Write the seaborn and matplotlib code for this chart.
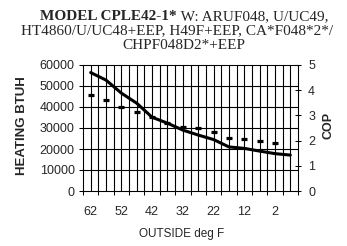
import numpy as np
import pandas as pd
import matplotlib
matplotlib.use('Agg')
import matplotlib.pyplot as plt
import seaborn as sns

# values
outside_temp = [62, 57, 52, 47, 42, 37, 32, 27, 22, 17, 12, 7, 2, -3]
heating_btuh = [56400, 52800, 46600, 41800, 35100, 32300, 29000, 26650, 24500, 21000, 20300, 19000, 17800, 17100]
cop = [3.81, 3.61, 3.35, 3.15, 2.95, 2.71, 2.55, 2.49, 2.35, 2.11, 2.06, 1.98, 1.91, np.nan]
heating_ticks = [0, 10000, 20000, 30000, 40000, 50000, 60000]
cop_ticks = [0, 1, 2, 3, 4, 5]

title_bold = 'MODEL CPLE42-1*'
title_lines = [' W: ARUF048, U/UC49,', 'HT4860/U/UC48+EEP, H49F+EEP, CA*F048*2*/', 'CHPF048D2*+EEP']

df = pd.DataFrame({'temp': outside_temp, 'heating': heating_btuh, 'cop': cop})
df['pos'] = np.arange(len(df))
n = len(df)

sns.set_style('white', {'axes.edgecolor': 'black'})
plt.rcParams['font.family'] = ['Liberation Sans', 'DejaVu Sans']

W, H = 347, 246
fig = plt.figure(figsize=(W / 100, H / 100), dpi=100)
ax = fig.add_axes([83 / W, 55 / H, 215 / W, 126 / H])

# grid: a line at every category edge and centre, and at every btuh tick
ax.vlines(np.arange(0, n - 0.75, 0.5), heating_ticks[0], heating_ticks[-1],
          colors='black', linewidths=0.8, zorder=1.5, clip_on=False)
ax.hlines(heating_ticks[1:-1], -0.5, n - 0.5, colors='black', linewidths=0.8, zorder=1.5, clip_on=False)

sns.lineplot(data=df, x='pos', y='heating', ax=ax, color='black', lw=2.2, zorder=3)

# x axis: categories, a label on every other one
ax.set_xlim(-0.5, n - 0.5)
ax.set_xticks(np.arange(-0.5, n, 1))
ax.set_xticklabels([])
ax.set_xticks(df['pos'], minor=True)
ax.set_xticklabels([str(t) if i % 2 == 0 else '' for i, t in enumerate(outside_temp)], minor=True)
ax.tick_params(axis='x', which='major', bottom=True, direction='out', length=3, width=0.75, color='black')
ax.tick_params(axis='x', which='minor', bottom=True, length=0, pad=11, labelsize=9)

ax.set_ylim(heating_ticks[0], heating_ticks[-1])
ax.set_yticks(heating_ticks)
ax.tick_params(axis='y', left=True, direction='out', length=3, width=0.75, pad=3, labelsize=9, color='black')

ax2 = ax.twinx()
sns.lineplot(data=df, x='pos', y='cop', ax=ax2, color='black', marker='_', linestyle='none',
             markersize=4, markeredgewidth=2.3, markeredgecolor='black', zorder=3)
ax2.set_ylim(cop_ticks[0], cop_ticks[-1])
ax2.set_yticks(cop_ticks)
ax2.tick_params(axis='y', right=True, direction='inout', length=4.5, width=0.75, pad=5, labelsize=9, color='black')

for a in (ax, ax2):
    a.set_xlabel('')
    a.set_ylabel('')
    for s in a.spines.values():
        s.set_color('black')
        s.set_linewidth(0.75)

fig.text(182 / W, 1 - 234 / H, 'OUTSIDE deg F', ha='center', va='center', fontsize=8.5)
fig.text(22 / W, 1 - 126 / H, 'HEATING BTUH', ha='center', va='center', rotation=90,
         fontsize=9.5, fontweight='bold')
fig.text(328 / W, 1 - 125 / H, 'COP', ha='center', va='center', rotation=90,
         fontsize=9, fontweight='bold')

# title, first line half bold
tfont = dict(family='Liberation Serif', fontsize=11, va='baseline')
t1 = fig.text(0, 1 - 20 / H, title_bold, fontweight='bold', **tfont)
t2 = fig.text(0, 1 - 20 / H, title_lines[0], **tfont)
fig.canvas.draw()
w1 = t1.get_window_extent().width
w2 = t2.get_window_extent().width
x0 = 184 - (w1 + w2) / 2
t1.set_x(x0 / W)
t2.set_x((x0 + w1) / W)
fig.text(177 / W, 1 - 34 / H, title_lines[1], ha='center', **tfont)
fig.text(184 / W, 1 - 49 / H, title_lines[2], ha='center', **tfont)

fig.savefig('out.png', dpi=100)
